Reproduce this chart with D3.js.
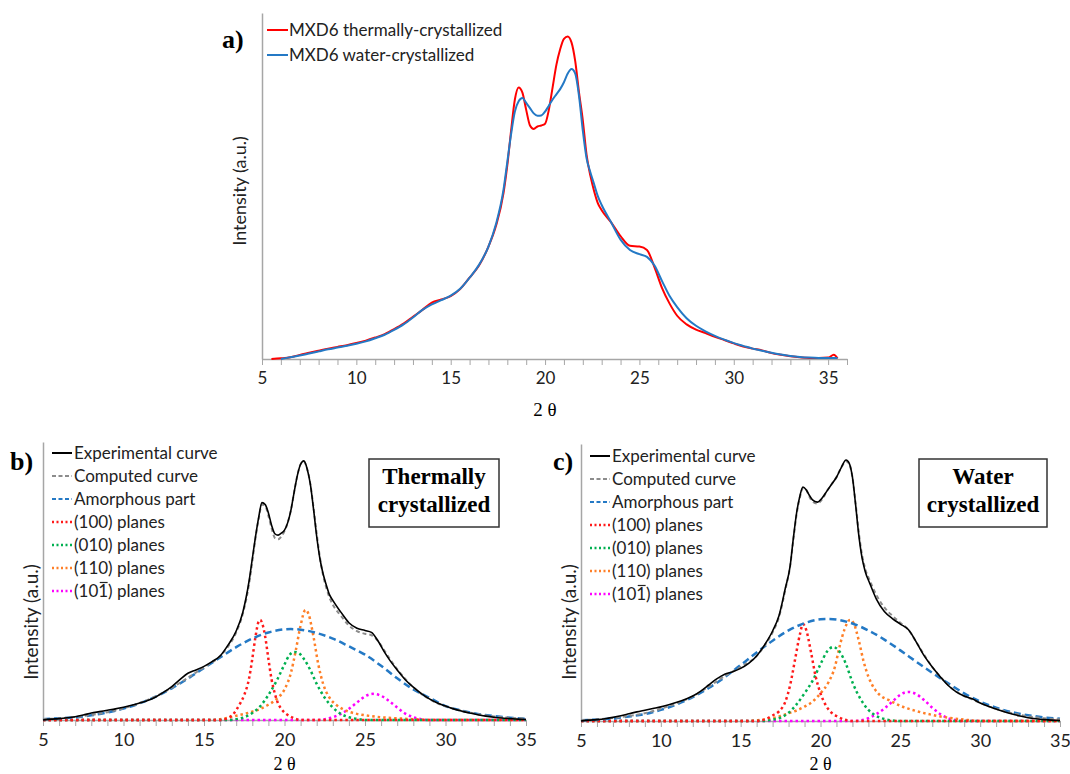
<!DOCTYPE html>
<html>
<head>
<meta charset="utf-8">
<script src="https://cdn.jsdelivr.net/npm/d3@7"></script>
<style>
  body { margin: 0; background: #fff; }
  svg { display: block; }
  .tick text { font-family: Lato, "Open Sans", sans-serif; fill: #222; }
</style>
</head>
<body>
<div id="chart"></div>
<script>
// ---- panel a : measured patterns (2 theta, intensity a.u.) ----
var thermalA = [[5.5,0],[6,0.2],[6.5,0.5],[7,1.2],[7.5,1.8],[8,2.4],[8.5,3],[9,3.5],[9.5,4],[10,4.6],[10.5,5.3],[11,6.2],[11.5,7.2],[12,8.6],[12.5,10.2],[13,12.2],[13.5,14.2],[14,16.3],[14.5,17.2],[15,18.2],[15.5,20.2],[16,23.5],[16.5,27],[17,32.5],[17.4,38.5],[17.8,48],[18,56],[18.2,66],[18.4,75],[18.6,78.5],[18.8,77],[19,72],[19.2,67.5],[19.4,66.5],[19.6,67.2],[19.8,67.5],[20,68],[20.2,72],[20.4,78.5],[20.6,85],[20.8,89.5],[21,92.5],[21.2,93.2],[21.4,91.5],[21.6,86],[21.8,77],[22,69],[22.2,59],[22.4,53],[22.6,48.5],[22.8,45],[23,43],[23.5,39.5],[24,35.5],[24.5,32.7],[25,32.5],[25.4,31.5],[25.8,26.5],[26.2,20.5],[26.6,16],[27,12.5],[27.5,10],[28,8.5],[28.5,7.5],[29,6.4],[29.5,5.5],[30,4.5],[30.5,3.6],[31,3],[31.5,2.5],[32,1.7],[32.5,1.2],[33,0.8],[33.5,0.5],[34,0.3],[34.5,0.3],[35,0.4],[35.3,1.2],[35.5,0.2]];
var waterA = [[6,0],[6.5,0.5],[7,1],[7.5,1.6],[8,2.2],[8.5,2.8],[9,3.3],[9.5,3.8],[10,4.4],[10.5,5.1],[11,6],[11.5,7],[12,8.4],[12.5,10],[13,12],[13.5,14.2],[14,15.8],[14.5,17],[15,18.3],[15.5,20.3],[16,23.5],[16.5,27.2],[17,32.5],[17.4,39],[17.8,49],[18,57],[18.2,65],[18.4,71.5],[18.6,74.5],[18.8,75.4],[19,74],[19.2,72.5],[19.4,71],[19.6,70.3],[19.8,70.4],[20,71.5],[20.2,73.2],[20.4,75],[20.6,76.5],[20.8,78],[21,80],[21.2,82.5],[21.4,83.8],[21.6,82.5],[21.8,76],[22,66],[22.2,58],[22.4,54],[22.6,50.5],[22.8,47],[23,44.5],[23.5,39.5],[24,34.5],[24.5,31.5],[25,30.3],[25.4,29.5],[25.8,27],[26.2,22.5],[26.6,18.2],[27,15],[27.5,11.8],[28,9.6],[28.5,8],[29,6.7],[29.5,5.6],[30,4.6],[30.5,3.8],[31,3],[31.5,2.4],[32,1.8],[32.5,1.3],[33,0.9],[33.5,0.6],[34,0.4],[34.5,0.3],[35,0.3],[35.5,0.3]];

// ---- panel b : thermally crystallized, deconvolution ----
var expB = [[5,0],[5.5,0.3],[6,0.5],[6.5,0.8],[7,1.2],[7.5,1.8],[8,2.5],[8.5,3],[9,3.5],[9.5,4],[10,4.6],[10.5,5.3],[11,6.1],[11.5,7],[12,8.3],[12.5,10],[13,12],[13.5,14.5],[14,16.8],[14.5,18],[15,19.3],[15.5,21],[16,23],[16.5,27],[17,32],[17.4,38.5],[17.8,50],[18,58],[18.2,66],[18.4,73],[18.6,78.2],[18.8,77.5],[19,74.5],[19.2,70],[19.4,67],[19.6,66.5],[19.8,67.2],[20,68.3],[20.2,71],[20.4,75.5],[20.6,82],[20.8,88],[21,92],[21.2,93.2],[21.4,90.5],[21.6,85],[21.8,76],[22,66],[22.2,58],[22.4,52.5],[22.6,48.5],[22.8,45],[23,43],[23.5,38.8],[24,35],[24.5,33],[25,32.2],[25.4,31.5],[25.8,28.5],[26.2,24.5],[26.6,21],[27,18],[27.5,14.5],[28,11.8],[28.5,9.5],[29,7.6],[29.5,6.1],[30,5],[30.5,4],[31,3.2],[31.5,2.5],[32,1.9],[32.5,1.4],[33,1],[33.5,0.7],[34,0.5],[34.5,0.3],[35,0.2]];
var calcB = [[5,0.3],[6,0.6],[7,1.1],[8,1.8],[9,2.8],[10,4.2],[11,6.1],[12,8.5],[13,11.6],[14,15.2],[15,19],[16,23],[16.5,26.5],[17,31.5],[17.4,38],[17.8,49],[18,57],[18.2,65.5],[18.4,72.5],[18.6,77.5],[18.8,77],[19,73.5],[19.2,69],[19.4,65.5],[19.6,65],[19.8,66],[20,68],[20.2,71],[20.4,75.5],[20.6,82],[20.8,88],[21,92],[21.2,93],[21.4,90.5],[21.6,85],[21.8,76.5],[22,67],[22.2,58.5],[22.4,52],[22.6,47.5],[22.8,44],[23,41.5],[23.5,37.5],[24,34],[24.5,32],[25,31],[25.4,30.5],[25.8,28.5],[26.2,25],[26.6,21.5],[27,18.3],[27.5,14.8],[28,11.8],[28.5,9.4],[29,7.5],[29.5,6],[30,4.9],[31,3.3],[32,2.1],[33,1.3],[34,0.8],[35,0.5]];
var amorphB = [[5,0.3],[6,0.6],[7,1],[8,1.7],[9,2.7],[10,4.1],[11,6],[12,8.4],[13,11.4],[14,14.9],[15,18.7],[16,22.5],[17,26.2],[18,29.3],[19,31.5],[20,32.6],[20.4,32.7],[21,32.5],[22,31.3],[23,29.3],[24,26.5],[25,23.5],[26,19.5],[27,15],[28,11],[29,8],[30,5],[31,3.4],[32,2.2],[33,1.4],[34,0.8],[35,0.4]];
var p100B = [[5,0],[16,0],[16.4,0.5],[16.8,2],[17.2,5.5],[17.5,9],[17.8,15],[18,22],[18.2,30],[18.4,35.5],[18.5,36],[18.6,35],[18.8,30],[19,22],[19.2,14.5],[19.4,9.5],[19.6,6],[19.8,4],[20.2,1.8],[20.6,0.6],[21,0],[35,0]];
var p010B = [[5,0],[16.5,0],[17,0.3],[17.5,1],[18,2.5],[18.5,5],[19,9],[19.5,14],[20,20],[20.3,23.3],[20.6,24.5],[20.9,24],[21.2,22],[21.6,18],[22,13],[22.5,8],[23,4.5],[23.5,2.2],[24,1],[24.5,0.4],[25,0],[35,0]];
var p110B = [[5,0],[15.5,0],[16,0.3],[16.5,0.8],[17,1.5],[17.5,2.2],[18,3],[18.5,4],[19,5.5],[19.5,7.5],[20,11],[20.4,17],[20.7,25],[21,34],[21.3,39.6],[21.5,38],[21.8,30],[22.1,20],[22.4,13],[22.8,8],[23.2,5.5],[23.6,4],[24,3],[24.5,2.2],[25,1.7],[26,1],[27,0.6],[28,0.3],[29,0],[35,0]];
var p101B = [[5,0],[22,0],[22.5,0.3],[23,1],[23.5,2.2],[24,4],[24.5,6.3],[25,8.5],[25.5,9.4],[26,8.7],[26.5,6.8],[27,4.5],[27.5,2.3],[28,1],[28.5,0.3],[29,0],[35,0]];

// ---- panel c : water crystallized, deconvolution ----
var expC = [[5,0],[5.5,0.3],[6,0.5],[6.5,0.8],[7,1.3],[7.5,1.9],[8,2.6],[8.5,3.3],[9,3.9],[9.5,4.5],[10,5.1],[10.5,5.9],[11,6.8],[11.5,7.8],[12,9],[12.5,10.8],[13,13],[13.5,15.2],[14,16.9],[14.5,17.8],[15,19],[15.5,20.8],[16,23.5],[16.5,27.5],[17,32.5],[17.4,38],[17.8,48],[18.1,56],[18.3,66],[18.5,75],[18.7,81],[18.9,84.5],[19.1,83.5],[19.3,81.5],[19.5,79.8],[19.8,79],[20.1,80.5],[20.4,83],[20.7,85.5],[21,88],[21.3,91.5],[21.6,94.2],[21.8,93],[22,88],[22.2,78],[22.4,67],[22.6,59],[22.8,54],[23.1,49.5],[23.5,44],[24,39.5],[24.5,37],[25,35],[25.5,33],[26,28.5],[26.5,23.5],[27,19.5],[27.5,16],[28,12.8],[28.5,10.5],[29,9],[29.5,8],[30,6.5],[30.5,5.3],[31,4.3],[31.5,3.3],[32,2.5],[32.5,1.8],[33,1.2],[33.5,0.8],[34,0.5],[34.5,0.3],[35,0.2]];
var calcC = [[5,0.3],[6,0.6],[7,1.1],[8,1.8],[9,2.8],[10,4.4],[11,6.4],[12,8.9],[13,12.4],[14,16.2],[15,19.5],[16,23.5],[16.5,27.2],[17,32],[17.4,37.5],[17.8,47.5],[18.1,56],[18.3,65.5],[18.5,74.5],[18.7,80.5],[18.9,84],[19.1,83.5],[19.3,81],[19.5,79.2],[19.8,78.5],[20.1,80],[20.4,83],[20.7,85.5],[21,88],[21.3,91.5],[21.6,93.8],[21.8,92.8],[22,88],[22.2,78.5],[22.4,68],[22.6,60],[22.8,55],[23.1,50.5],[23.5,45.5],[24,41],[24.5,38],[25,35.5],[25.5,33],[26,28.5],[26.5,23.8],[27,19.5],[27.5,16],[28,13],[28.5,10.6],[29,9],[29.5,7.8],[30,6.5],[31,4.4],[32,2.8],[33,1.7],[34,1],[35,0.6]];
var amorphC = [[5,0.3],[6,0.5],[7,0.9],[8,1.6],[9,2.5],[10,4],[11,6],[12,8.6],[13,11.9],[14,15.8],[15,20.2],[16,24.7],[17,29],[18,32.7],[19,35.3],[20,36.7],[20.4,36.8],[21,36.6],[22,35.2],[23,32.7],[24,29.4],[25,25.5],[26,21.4],[27,17.4],[28,13.6],[29,10],[30,7],[31,4.8],[32,3.2],[33,2.1],[34,1.3],[35,0.8]];
var p100C = [[5,0],[16,0],[16.5,0.5],[17,2],[17.4,3.5],[17.8,7],[18.1,13],[18.4,22],[18.7,31],[18.9,35],[19.1,33],[19.4,25],[19.7,16],[20,10],[20.3,6],[20.6,3.5],[21,1.8],[21.5,0.5],[22,0],[35,0]];
var p010C = [[5,0],[16.5,0],[17,0.5],[17.5,1.2],[18,3],[18.5,6],[19,10],[19.5,14.5],[20,20.5],[20.4,25],[20.8,26.7],[21.2,25],[21.6,20.5],[22,14],[22.5,8],[23,4],[23.5,1.8],[24,0.7],[24.5,0.2],[25,0],[35,0]];
var p110C = [[5,0],[15.5,0],[16,0.3],[17,1],[17.5,1.8],[18,2.8],[18.5,3.8],[19,5.2],[19.5,7],[20,10],[20.5,14],[20.9,19.5],[21.2,27],[21.5,33],[21.85,36.5],[22.1,35],[22.4,29],[22.7,21.5],[23,16],[23.4,11.5],[23.8,9],[24.3,7.5],[25,5.5],[26,3.6],[27,2.2],[28,1.2],[29,0.5],[30,0],[35,0]];
var p101C = [[5,0],[22,0],[22.5,0.2],[23,1],[23.5,2.5],[24,4.5],[24.5,7],[25,9.5],[25.5,10.5],[26,9.7],[26.5,7.5],[27,4.8],[27.5,2.5],[28,1],[28.5,0.3],[29,0],[35,0]];

var legendA = ["MXD6 thermally-crystallized", "MXD6 water-crystallized"];
var legendBC = ["Experimental curve", "Computed curve", "Amorphous part", "(100) planes", "(010) planes", "(110) planes", "(101) planes"];

var svg = d3.select("#chart").append("svg")
  .attr("width", 1070)
  .attr("height", 774);

var sans = "Lato, 'Open Sans', sans-serif";
var serif = "'Liberation Serif', 'DejaVu Serif', serif";
var axisCol = "#a6a6a6";

// styles of the fitted series, in legend order
var styles = [
  {color: "#000", dash: null, w: 1.6},
  {color: "#8c8c8c", dash: "4,3", w: 2},
  {color: "#2479c5", dash: "7,4", w: 2.5},
  {color: "#ff1a1a", dash: "2.5,3", w: 2.5},
  {color: "#00b050", dash: "2.5,3", w: 2.5},
  {color: "#ff7f27", dash: "2.5,3", w: 2.5},
  {color: "#ff00ff", dash: "2.5,3", w: 2.5}
];

function drawAxes(x, y, maxX, labelSize) {
  var g = svg.append("g");
  g.append("g")
    .attr("transform", "translate(0," + y.range()[0] + ")")
    .call(d3.axisBottom(x)
      .tickValues(d3.range(5, maxX + 1))
      .tickSize(6)
      .tickSizeOuter(0)
      .tickPadding(7)
      .tickFormat(function (d) { return d % 5 === 0 ? d : ""; }))
    .call(function (a) {
      a.select(".domain").attr("stroke", axisCol).attr("stroke-width", 1.5);
      a.selectAll(".tick line").attr("stroke", axisCol);
      a.selectAll(".tick text").attr("font-size", labelSize);
    });
  g.append("g")
    .attr("transform", "translate(" + x.range()[0] + ",0)")
    .call(d3.axisLeft(y).ticks(0).tickSizeOuter(0))
    .call(function (a) {
      a.select(".domain").attr("stroke", axisCol).attr("stroke-width", 1.5);
    });
}

function drawLine(x, y, data, st) {
  var line = d3.line()
    .x(function (d) { return x(d[0]); })
    .y(function (d) { return y(d[1]); })
    .curve(d3.curveMonotoneX);
  svg.append("path")
    .datum(data)
    .attr("fill", "none")
    .attr("stroke", st.color)
    .attr("stroke-width", st.w)
    .attr("stroke-dasharray", st.dash)
    .attr("stroke-linejoin", "round")
    .attr("d", line);
}

// ===== panel a =====
var xA = d3.scaleLinear().domain([5, 36]).range([262, 847]);
var yA = d3.scaleLinear().domain([0, 100]).range([359, 13]);
drawAxes(xA, yA, 36, 17);
drawLine(xA, yA, thermalA, {color: "#ff0000", dash: null, w: 2});
drawLine(xA, yA, waterA, {color: "#2479c5", dash: null, w: 2});

var colsA = ["#ff0000", "#2479c5"];
legendA.forEach(function (t, i) {
  svg.append("line").attr("x1", 267).attr("x2", 288)
    .attr("y1", 30 + i * 25).attr("y2", 30 + i * 25)
    .attr("stroke", colsA[i]).attr("stroke-width", 2);
  svg.append("text").attr("x", 289).attr("y", 30 + i * 25).attr("dy", "0.35em")
    .attr("font-family", sans).attr("font-size", 17).attr("fill", "#222").text(t);
});

svg.append("text").attr("x", 222).attr("y", 48)
  .attr("font-family", serif).attr("font-weight", "bold").attr("font-size", 26).text("a)");
svg.append("text").attr("x", 545).attr("y", 416).attr("text-anchor", "middle")
  .attr("font-family", serif).attr("font-size", 19).text("2 θ");
svg.append("text").attr("transform", "translate(246,191) rotate(-90)").attr("text-anchor", "middle")
  .attr("font-family", sans).attr("font-size", 18).attr("fill", "#222").text("Intensity (a.u.)");

// ===== panels b and c =====
function drawFitPanel(x, y, series, lx, ly, tag, tagX, box, boxText, ylabX) {
  drawAxes(x, y, 35, 18);
  // components first, curves on top
  [6, 5, 4, 3, 2, 1, 0].forEach(function (i) { drawLine(x, y, series[i], styles[i]); });

  legendBC.forEach(function (t, i) {
    var yy = ly + i * 23;
    svg.append("line").attr("x1", lx).attr("x2", lx + 20).attr("y1", yy).attr("y2", yy)
      .attr("stroke", styles[i].color)
      .attr("stroke-width", i < 3 ? 2 : 2.5)
      .attr("stroke-dasharray", i === 0 ? null : (i < 3 ? "4,2.5" : "2,2.5"));
    var txt = svg.append("text").attr("x", lx + 22).attr("y", yy).attr("dy", "0.35em")
      .attr("font-family", sans).attr("font-size", 17).attr("fill", "#222").text(t);
    if (i === 6) {
      // bar over the last index of (10-1), placed from the glyph position
      var n = txt.node();
      var x0 = n.getStartPositionOfChar(3).x, x1 = n.getEndPositionOfChar(3).x;
      svg.append("line").attr("x1", x0 + 1.5).attr("x2", x1 - 0.5)
        .attr("y1", yy - 8.5).attr("y2", yy - 8.5)
        .attr("stroke", "#222").attr("stroke-width", 1.2);
    }
  });

  svg.append("text").attr("x", tagX).attr("y", 470)
    .attr("font-family", serif).attr("font-weight", "bold").attr("font-size", 26).text(tag);

  svg.append("rect").attr("x", box[0]).attr("y", 459).attr("width", box[1]).attr("height", 68)
    .attr("fill", "#fff").attr("stroke", "#333").attr("stroke-width", 1.5);
  boxText.forEach(function (t, i) {
    svg.append("text").attr("x", box[0] + box[1] / 2).attr("y", 484 + i * 28)
      .attr("text-anchor", "middle").attr("font-family", serif)
      .attr("font-weight", "bold").attr("font-size", 23).text(t);
  });

  svg.append("text").attr("x", x(20)).attr("y", 770).attr("text-anchor", "middle")
    .attr("font-family", serif).attr("font-size", 18).text("2 θ");
  svg.append("text").attr("transform", "translate(" + ylabX + ",622) rotate(-90)")
    .attr("text-anchor", "middle").attr("font-family", sans).attr("font-size", 19)
    .attr("fill", "#222").text("Intensity (a.u.)");
}

var xB = d3.scaleLinear().domain([5, 35]).range([43, 526]);
var yB = d3.scaleLinear().domain([0, 100]).range([720, 442]);
drawFitPanel(xB, yB, [expB, calcB, amorphB, p100B, p010B, p110B, p101B],
  52, 453, "b)", 10, [369, 130], ["Thermally", "crystallized"], 38);

var xC = d3.scaleLinear().domain([5, 35]).range([581, 1060]);
var yC = d3.scaleLinear().domain([0, 100]).range([721, 444]);
drawFitPanel(xC, yC, [expC, calcC, amorphC, p100C, p010C, p110C, p101C],
  590, 456, "c)", 553, [919, 128], ["Water", "crystallized"], 576);
</script>
</body>
</html>
